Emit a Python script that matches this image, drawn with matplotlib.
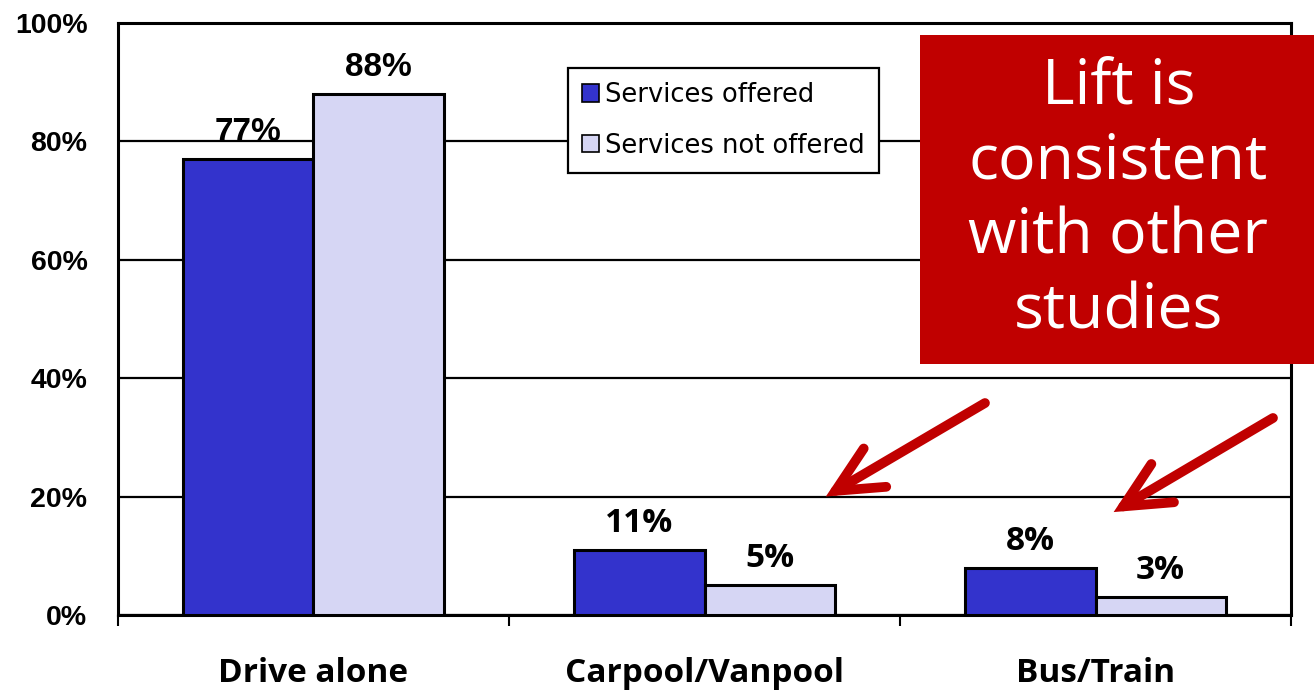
import numpy as np
import matplotlib
matplotlib.use('Agg')
import matplotlib.pyplot as plt
from matplotlib.patches import Rectangle, FancyArrowPatch, ArrowStyle
from matplotlib.ticker import FuncFormatter

# Dados
categorias = ['Drive alone', 'Carpool/Vanpool', 'Bus/Train']
oferecido = [0.77, 0.11, 0.08]
nao_oferecido = [0.88, 0.05, 0.03]
rotulos_oferecido = ['77%', '11%', '8%']
rotulos_nao = ['88%', '5%', '3%']
series = ['Services offered', 'Services not offered']
destaque = 'Lift is\nconsistent\nwith other\nstudies'

azul = '#3333CC'
lilas = '#D6D6F4'
vermelho = '#C00000'

fig = plt.figure(figsize=(13.14, 6.92), dpi=100)
ax = fig.add_axes([0.0898, 0.1113, 0.8927, 0.8555])

x = np.arange(len(categorias))
w = 1/3
b1 = ax.bar(x - w/2, oferecido, w, color=azul, edgecolor='black', linewidth=2.2,
            label=series[0], zorder=3)
b2 = ax.bar(x + w/2, nao_oferecido, w, color=lilas, edgecolor='black', linewidth=2.2,
            label=series[1], zorder=3)

# rótulos de valor
for i in range(len(categorias)):
    fam = 'Liberation Sans' if i == 0 else 'Open Sans'
    ax.annotate(rotulos_oferecido[i], (x[i] - w/2, oferecido[i]), xytext=(0, 13),
                textcoords='offset points', ha='center', va='baseline',
                fontsize=24, fontweight='bold', family=fam)
    ax.annotate(rotulos_nao[i], (x[i] + w/2, nao_oferecido[i]), xytext=(0, 13),
                textcoords='offset points', ha='center', va='baseline',
                fontsize=24, fontweight='bold', family=fam)

ax.set_xlim(-0.5, len(categorias) - 0.5)
ax.set_ylim(0, 1)
ax.set_yticks(np.arange(0, 1.01, 0.2))
ax.yaxis.set_major_formatter(FuncFormatter(lambda v, p: '%d%%' % round(v*100)))
ax.tick_params(axis='y', length=0, pad=22)
for t in ax.get_yticklabels():
    t.set_family('Liberation Sans')
    t.set_fontweight('bold')
    t.set_fontsize(20.5)
ax.grid(True, axis='y', color='black', linewidth=1.6, zorder=0)
ax.set_axisbelow(True)

ax.set_xticks(x)
ax.set_xticklabels(categorias, family='Open Sans', fontweight='bold', fontsize=24)
ax.tick_params(axis='x', which='major', length=0, pad=30)
ax.set_xticks(np.arange(-0.5, len(categorias)), minor=True)
ax.tick_params(axis='x', which='minor', length=8, width=1.5, direction='out')

for s in ax.spines.values():
    s.set_linewidth(2.2)

leg = ax.legend(loc='upper left', bbox_to_anchor=(0.3836, 0.924), borderaxespad=0,
                prop={'family': 'DejaVu Sans', 'size': 18.5}, handlelength=0.65,
                handleheight=0.65, handletextpad=0.25, labelspacing=0.95,
                fancybox=False, edgecolor='black', framealpha=1, borderpad=0.55)
leg.get_frame().set_linewidth(1.6)
for h in leg.legend_handles:
    h.set_linewidth(1.2)

# caixa vermelha
fig.add_artist(Rectangle((0.700, 0.474), 0.300, 0.475, transform=fig.transFigure,
                         facecolor=vermelho, edgecolor='none', zorder=5))
fig.text(0.851, 0.711, destaque, ha='center', va='center', color='white',
         fontsize=45, family='Open Sans', linespacing=1.26, zorder=6)

# setas
estilo = ArrowStyle('->', head_length=33, head_width=16)
for (x0, y0), (x1, y1) in [((0.7496, 0.4176), (0.6285, 0.2825)),
                           ((0.9688, 0.3960), (0.8475, 0.2600))]:
    seta = FancyArrowPatch((x0, y0), (x1, y1), transform=fig.transFigure,
                           arrowstyle=estilo, mutation_scale=1, color=vermelho,
                           linewidth=7, shrinkA=0, shrinkB=0, zorder=6,
                           capstyle='round', joinstyle='miter')
    fig.add_artist(seta)

fig.savefig('out.png', dpi=100)
